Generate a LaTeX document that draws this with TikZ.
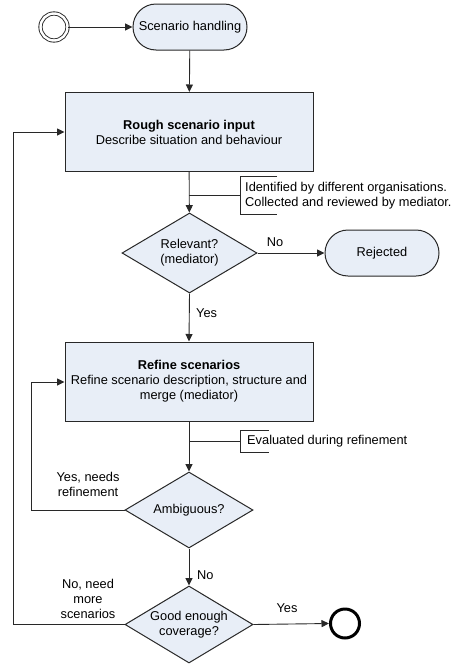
\documentclass[tikz,border=0pt]{standalone}
\usepackage{fontspec}
\setmainfont{Liberation Sans}
\usetikzlibrary{shapes.geometric,arrows.meta}
\definecolor{boxfill}{RGB}{232,238,247}
\definecolor{edge}{RGB}{40,40,40}
\begin{document}
\begin{tikzpicture}[x=1pt,y=-1pt,
  every node/.style={font=\fontsize{12.8}{15}\selectfont, text=black},
  proc/.style={draw=edge, line width=1pt, fill=boxfill, rectangle, minimum width=248pt, minimum height=79pt, align=center, inner sep=0pt},
  term/.style={draw=edge, line width=1pt, fill=boxfill, rectangle, rounded corners=23pt, minimum width=114pt, minimum height=46pt, align=center, inner sep=0pt},
  decision/.style={draw=edge, line width=1pt, fill=boxfill, diamond, aspect=1.68, inner sep=0pt, align=center},
  conn/.style={draw=edge, line width=0.9pt},
  arr/.style={conn, -{Triangle[length=7.5pt,width=7pt]}},
  lbl/.style={inner sep=0pt, align=center},
  note/.style={inner sep=0pt, align=left, anchor=west}
]
\useasboundingbox[fill=white] (0,0) rectangle (451,664);

% nodes
\node[circle, draw=edge, line width=0.9pt, double=white, double distance=2.4pt, minimum size=27pt, inner sep=0pt] (start) at (54,27) {};
\node[term] (sh) at (190,27) {Scenario handling};
\node[proc] (rough) at (189,132) {\textbf{Rough scenario input}\\Describe situation and behaviour};
\node[decision, minimum width=135pt, minimum height=80pt] (rel) at (189.5,253) {Relevant?\\(mediator)};
\node[term] (rej) at (382,253) {Rejected};
\node[proc] (refine) at (189,381.5) {\textbf{Refine scenarios}\\Refine scenario description, structure and\\merge (mediator)};
\node[decision, minimum width=128pt, minimum height=76pt] (amb) at (189,510) {Ambiguous?};
\node[decision, minimum width=128pt, minimum height=77pt] (good) at (189,624.5) {Good enough\\coverage?};
\node[circle, draw=black, line width=3pt, minimum size=29pt, inner sep=0pt] (end) at (345,623.5) {};

% annotations
\coordinate (n1a) at (189,195);
\coordinate (n1b) at (240,195);
\draw[conn] (277,176) -- (240,176) -- (240,214) -- (277,214);
\node[note] (note1) at (245,196) {Identified by different organisations.\\Collected and reviewed by mediator.};
\coordinate (n2a) at (189,441);
\coordinate (n2b) at (240,441);
\draw[conn] (269,430) -- (240,430) -- (240,452) -- (269,452);
\node[note] (note2) at (247,441) {Evaluated during refinement};

% connectors
\draw[arr] (start) -- (sh);
\draw[arr] (sh) -- (rough);
\draw[arr] (rough) -- (rel);
\draw[conn] (n1a) -- (n1b);
\draw[arr] (rel.east) -- (rej.west);
\node[lbl] (lno1) at (275,242) {No};
\draw[arr] (rel.south) -- (refine.north);
\node[lbl, anchor=west] (lyes1) at (196,313) {Yes};
\draw[arr] (refine) -- (amb);
\draw[conn] (n2a) -- (n2b);
\coordinate (l1a) at (31,510);
\coordinate (l1b) at (31,382);
\draw[arr] (amb.west) -- (l1a) -- (l1b) -- (refine.west |- l1b);
\node[lbl] (lyes2) at (88,484) {Yes, needs\\refinement};
\draw[arr] (amb.south) -- (good.north);
\node[lbl, anchor=west] (lno2) at (197,575) {No};
\coordinate (l2a) at (13,624.5);
\coordinate (l2b) at (13,132);
\draw[arr] (good.west) -- (l2a) -- (l2b) -- (rough.west);
\node[lbl] (lno3) at (88,599) {No, need\\more\\scenarios};
\draw[arr] (good.east) -- (end.west);
\node[lbl] (lyes3) at (287,608) {Yes};
\end{tikzpicture}
\end{document}
